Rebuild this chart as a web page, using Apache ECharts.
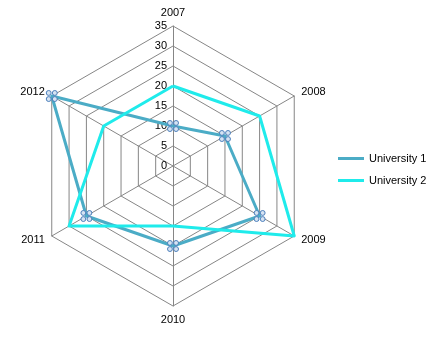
<!DOCTYPE html>
<html><head><meta charset="utf-8">
<script src="https://cdn.jsdelivr.net/npm/echarts@6/dist/echarts.min.js"></script>
<style>html,body{margin:0;padding:0;background:#fff}#c{width:443px;height:338px}</style>
</head><body><div id="c"></div>
<script>
const categories = ['2007','2008','2009','2010','2011','2012'];
const university1 = [10,15,25,20,25,35];
const university2 = [20,25,35,15,30,20];
const seriesNames = ['University 1','University 2'];
const maxValue = 35;
const tickInterval = 5;

// ECharts radar runs counter-clockwise; reorder so categories go clockwise
const order = [0,5,4,3,2,1];
const pick = arr => order.map(i=>arr[i]);

function circ(cx,cy,r){return 'M'+(cx-r)+','+cy+'a'+r+','+r+' 0 1,0 '+(2*r)+',0a'+r+','+r+' 0 1,0 '+(-2*r)+',0z';}
const markerPath = 'path://'+circ(3,3,2.4)+circ(9,3,2.4)+circ(3,9,2.4)+circ(9,9,2.4);

const chart = echarts.init(document.getElementById('c'));
const font = 'Liberation Sans, Arial, sans-serif';
chart.setOption({
  animation:false,
  textStyle:{fontFamily:font},
  legend:{
    orient:'vertical', left:333, top:148, itemGap:11,
    itemWidth:26, itemHeight:3, icon:'rect',
    textStyle:{color:'#000', fontSize:11, fontFamily:font},
    data:[
      {name:seriesNames[0], itemStyle:{color:'#4BACC6', borderWidth:0}},
      {name:seriesNames[1], itemStyle:{color:'#1FEBEB', borderWidth:0}}
    ]
  },
  radar:{
    center:[173,166], radius:140, startAngle:90,
    splitNumber:7, shape:'polygon',
    indicator: pick(categories).map(n=>({name:n, max:maxValue, min:0})),
    axisName:{color:'#000', fontSize:11, fontFamily:font},
    nameGap:8,
    axisLine:{lineStyle:{color:'#868686', width:1}},
    splitLine:{lineStyle:{color:'#868686', width:1}},
    splitArea:{show:false},
    axisTick:{show:false}, axisLabel:{show:false}
  },
  polar:{center:[173,166], radius:140},
  angleAxis:{show:false, startAngle:90, min:0, max:360},
  radiusAxis:{
    min:0, max:maxValue, interval:tickInterval,
    axisLine:{show:false}, axisTick:{show:false}, splitLine:{show:false},
    axisLabel:{color:'#000', fontSize:11, fontFamily:font, margin:6}
  },
  series:[{
    type:'radar',
    data:[
      {name:seriesNames[0], value:pick(university1),
       lineStyle:{color:'#4BACC6', width:3},
       itemStyle:{color:'#D6E3F2', borderColor:'#4A7EBB', borderWidth:1},
       symbol:markerPath, symbolSize:11},
      {name:seriesNames[1], value:pick(university2),
       lineStyle:{color:'#1FEBEB', width:3},
       itemStyle:{color:'#1FEBEB'},
       symbol:'none'}
    ]
  }],
  color:['#4BACC6','#1FEBEB']
});
</script></body></html>
